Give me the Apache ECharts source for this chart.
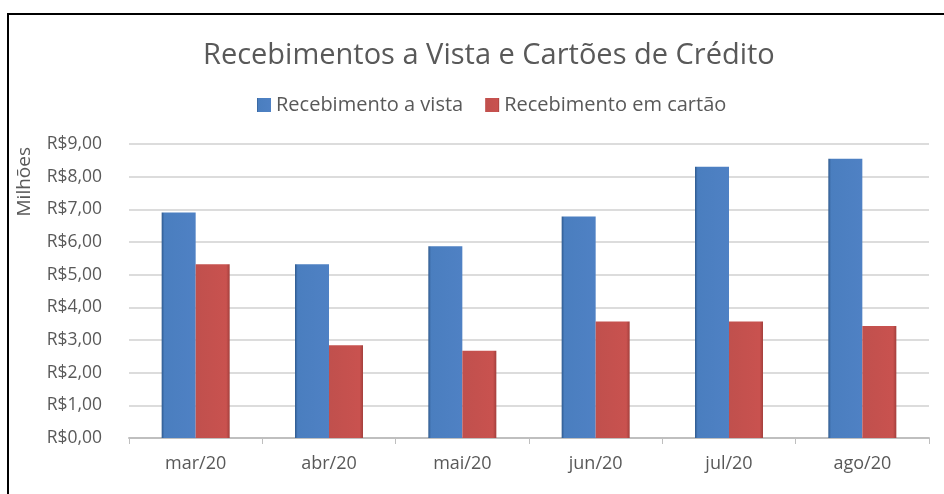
<!DOCTYPE html>
<html><head><meta charset="utf-8">
<script src="https://cdn.jsdelivr.net/npm/echarts@6/dist/echarts.min.js"></script>
<style>
html,body{margin:0;padding:0;background:#fff;}
#frame{position:absolute;left:7px;top:13px;width:1000px;height:600px;border-left:2px solid #000;border-top:2px solid #000;}
#c{position:absolute;left:0;top:0;width:944px;height:494px;}
</style></head>
<body>
<div id="frame"></div>
<div id="c"></div>
<script>
const categories = ['mar/20','abr/20','mai/20','jun/20','jul/20','ago/20'];
const aVista = [6.90, 5.32, 5.87, 6.78, 8.30, 8.55];
const cartao = [5.32, 2.84, 2.67, 3.57, 3.57, 3.43];
const seriesNames = ['Recebimento a vista','Recebimento em cartão'];
const chartTitle = 'Recebimentos a Vista e Cartões de Crédito';
const yName = 'Milhões';

const font = 'Open Sans, Noto Sans, sans-serif';
const chart = echarts.init(document.getElementById('c'));
chart.setOption({
  backgroundColor: 'transparent',
  animation: false,
  title: {text: chartTitle, left: 198, top: 36,
    textStyle: {fontFamily: font, fontSize: 29, fontWeight: 'normal', color: '#595959'}},
  legend: {top: 90, left: 252, icon: 'rect', itemWidth: 14, itemHeight: 14, itemGap: 22,
    textStyle: {fontFamily: font, fontSize: 20, color: '#595959'},
    data: seriesNames},
  grid: {left: 129, right: 15, top: 144, bottom: 56},
  xAxis: {type: 'category', data: categories,
    axisLine: {lineStyle: {color: '#bfbfbf', width: 2}},
    axisTick: {show: true, length: 6, lineStyle: {color: '#bfbfbf'}},
    axisLabel: {fontFamily: font, fontSize: 18, color: '#595959', margin: 17}},
  yAxis: {type: 'value', min: 0, max: 9, interval: 1,
    axisLabel: {fontFamily: font, fontSize: 17.5, color: '#595959', margin: 27,
      formatter: v => 'R$' + v.toFixed(2).replace('.', ',')},
    splitLine: {lineStyle: {color: '#d0d0d0', width: 1.5}},
    axisLine: {show: false}, axisTick: {show: false}},
  graphic: [{type: 'text', left: 15, top: 147, rotation: Math.PI/2,
    style: {text: yName, font: '19px ' + font, fill: '#595959'}}],
  series: [
    {name: seriesNames[0], type: 'bar', data: aVista, barWidth: 34, barGap: '0%',
      itemStyle: {color: {type: 'linear', x: 0, y: 0, x2: 1, y2: 0,
        colorStops: [{offset: 0, color: '#2f5a8e'}, {offset: 0.08, color: '#4a7ebf'}, {offset: 1, color: '#4f81c4'}]}}},
    {name: seriesNames[1], type: 'bar', data: cartao, barWidth: 34,
      itemStyle: {color: {type: 'linear', x: 0, y: 0, x2: 1, y2: 0,
        colorStops: [{offset: 0, color: '#c0504d'}, {offset: 0.9, color: '#c9524f'}, {offset: 1, color: '#a33f3c'}]}}}
  ]
});
</script>
</body></html>
